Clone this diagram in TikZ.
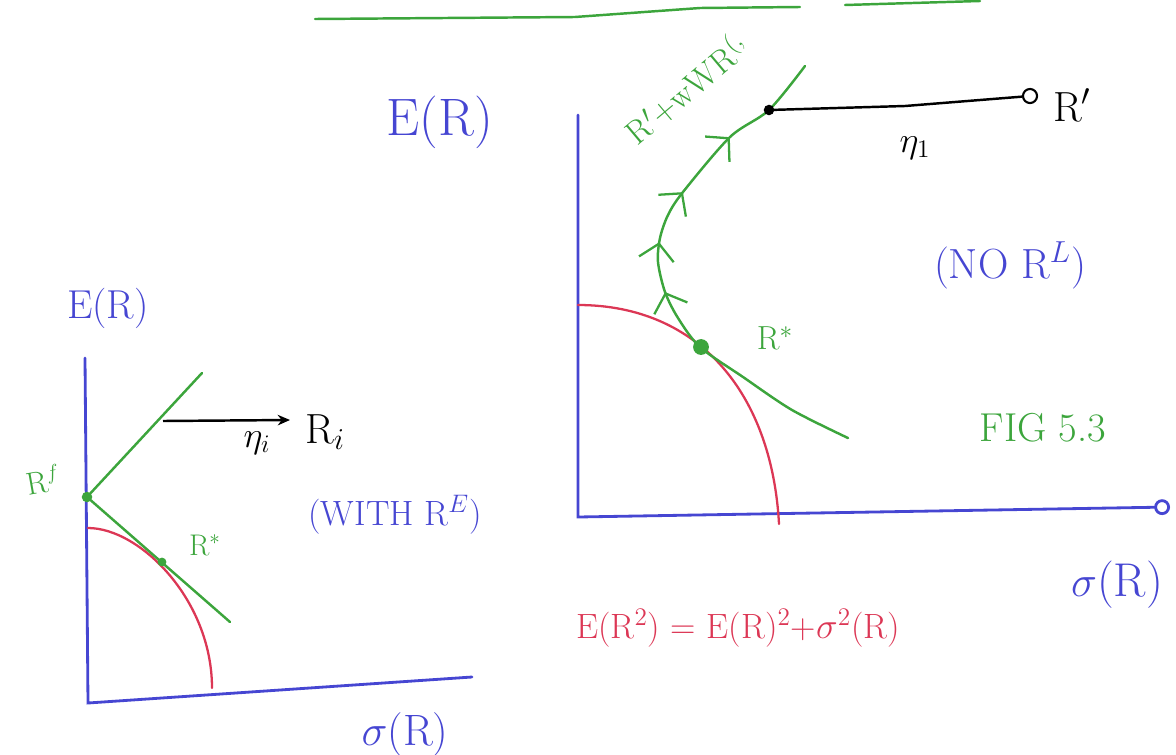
\documentclass[tikz,border=0pt]{standalone}
\usetikzlibrary{arrows.meta,decorations.markings}
\definecolor{penblue}{RGB}{70,70,210}
\definecolor{pengreen}{RGB}{60,165,60}
\definecolor{penred}{RGB}{220,55,85}
\newcommand\hw[1]{\fontsize{#1}{#1}\selectfont}
\begin{document}
\begin{tikzpicture}[x=0.02cm,y=-0.02cm,
	axis/.style={draw=penblue, line width=1.6pt, line cap=round},
	front/.style={draw=pengreen, line width=1.4pt, line cap=round},
	bound/.style={draw=penred, line width=1.3pt, line cap=round},
	ray/.style={draw=black, line width=1.4pt},
	blue/.style={text=penblue, inner sep=0pt},
	green/.style={text=pengreen, inner sep=0pt},
	red/.style={text=penred, inner sep=0pt},
	gdot/.style={circle, fill=pengreen, inner sep=0pt, minimum size=#1},
	chev/.tip={Straight Barb[length=9pt,width=20pt,line width=1.3pt]},
	flow/.style={postaction={decorate}, decoration={markings,
		mark=at position 0.458 with {\arrow{chev}},
		mark=at position 0.555 with {\arrow{chev}},
		mark=at position 0.662 with {\arrow{chev}},
		mark=at position 0.800 with {\arrow{chev}}}},
]
\useasboundingbox (0,0) rectangle (1176,754);
\draw[front] (315,19) -- (575,17) -- (700,8) -- (800,7);
\draw[front] (845,5) -- (980,1);

% left sketch
\coordinate (ly) at (85,358);
\coordinate (lo) at (88,703);
\coordinate (lx) at (472,677);
\draw[axis] (ly) -- (lo) -- (lx);
\draw[bound] (88,528) .. controls (140,528) and (212,600) .. (212,688);
\node[gdot=6pt] (lrf) at (87,497) {};
\coordinate (lup) at (202,373);
\coordinate (ldn) at (230,622);
\draw[front] (lrf.center) -- (lup);
\draw[front] (lrf.center) -- (ldn);
\node[gdot=5pt] (lstar) at (162,562) {};
\coordinate (lfoot) at (163,421);
\coordinate (lhead) at (290,420);
\draw[ray, -{Stealth[length=7pt,width=6pt]}] (lfoot) -- (lhead);
\node[blue, font=\hw{23}] (lylab) at (108,308) {E(R)};
\node[blue, font=\hw{25}] (lxlab) at (405,735) {$\sigma$(R)};
\node[green, font=\hw{18}, rotate=10] (lrflab) at (43,480) {R$^f$};
\node[green, font=\hw{17}] (lstarlab) at (205,545) {R$^*$};
\node[font=\hw{20}] (lni) at (257,443) {$\eta_i$};
\node[font=\hw{24}] (lRi) at (325,432) {R$_i$};
\node[blue, font=\hw{20}] (lwith) at (395,515) {(WITH R$^E$)};

% right sketch
\coordinate (ry) at (578,115);
\coordinate (ro) at (578,517);
\coordinate (rx) at (1170,507);
\draw[axis, -{Circle[open,length=9pt,width=9pt]}] (ry) -- (ro) -- (rx);
\draw[bound] (578,305) .. controls (700,305) and (772,395) .. (779,524);
\draw[front, flow] plot[smooth] coordinates {(848,438) (792,410) (743,377)
	(700,347) (678,318) (665,292) (658,262) (660,238) (668,215) (683,192)
	(730,137) (769,110) (805,66)};
\node[gdot=9pt] (rstar) at (701,347) {};
\node[circle, fill=black, inner sep=0pt, minimum size=6pt] (rfoot) at (769,110) {};
\coordinate (rkink) at (905,106);
\node[circle, draw=black, line width=1.2pt, inner sep=0pt, minimum size=8pt] (rend) at (1030,96) {};
\draw[ray] (rfoot.center) -- (rkink) -- (rend);
\node[blue, font=\hw{30}] (rylab) at (440,122) {E(R)};
\node[green, font=\hw{19}, rotate=40] (rpath) at (686,88) {R$'$+wWR$^{(,}$};
\node[font=\hw{22}] (rn1) at (915,148) {$\eta_1$};
\node[font=\hw{24}] (rR1) at (1072,105) {R$'$};
\node[blue, font=\hw{24}] (rno) at (1010,265) {(NO R$^L$)};
\node[green, font=\hw{19}] (rstarlab) at (775,338) {R$^*$};
\node[green, font=\hw{23}] (rfig) at (1043,428) {FIG 5.3};
\node[blue, font=\hw{27}] (rxlab) at (1117,585) {$\sigma$(R)};
\node[red, font=\hw{20}] (rform) at (738,628) {E(R$^2$) = E(R)$^2$+$\sigma^2$(R)};
\end{tikzpicture}
\end{document}
